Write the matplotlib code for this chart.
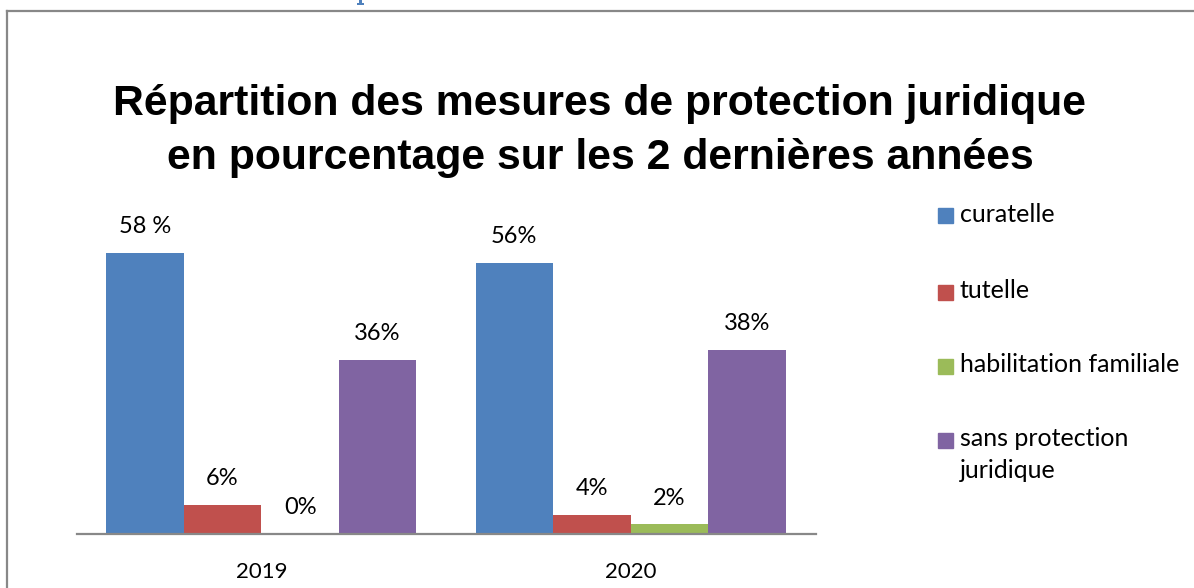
import numpy as np
import matplotlib.pyplot as plt
from matplotlib.lines import Line2D
from matplotlib.patches import Rectangle, Polygon

years = ['2019', '2020']
series = ['curatelle', 'tutelle', 'habilitation familiale', 'sans protection\njuridique']
values = [
    [58, 56],   # curatelle
    [6, 4],     # tutelle
    [0, 2],     # habilitation familiale
    [36, 38],   # sans protection juridique
]
value_labels = [
    ['58 %', '56%'],
    ['6%', '4%'],
    ['0%', '2%'],
    ['36%', '38%'],
]
colors = ['#4F81BD', '#C0504D', '#9BBB59', '#8064A2']

body_font = 'Lato'
W, H = 1194, 588
fig = plt.figure(figsize=(W / 100, H / 100), dpi=100)
ax = fig.add_axes([0.0641, 0.0918, 0.6189, 0.5767])

x = np.arange(len(years))
width = 0.21
for i, (vals, labs, col) in enumerate(zip(values, value_labels, colors)):
    pos = x + (i - 1.5) * width
    ax.bar(pos, vals, width, color=col, edgecolor='none')
    for px, v, lab in zip(pos, vals, labs):
        ax.text(px, v + 5.4, lab, ha='center', va='center', fontsize=17,
                family=body_font, color='black')

ax.set_xlim(-0.5, 1.5)
ax.set_ylim(0, 70)
ax.set_yticks([])
ax.set_xticks(x)
ax.set_xticklabels(years, fontsize=16, family=body_font)
ax.tick_params(axis='x', length=0, pad=20)
for s in ['top', 'right', 'left']:
    ax.spines[s].set_visible(False)
ax.spines['bottom'].set_color('#888888')
ax.spines['bottom'].set_linewidth(1.6)

fig.text(0.5025, 1 - 131 / H,
         'Répartition des mesures de protection juridique\nen pourcentage sur les 2 dernières années',
         ha='center', va='center', fontsize=30.8, fontweight='bold',
         family='Liberation Sans', linespacing=1.42)

# legend: square key beside the first line of each label
leg_y = [216, 292, 366, 440]
for name, col, yy in zip(series, colors, leg_y):
    fig.add_artist(Rectangle((938 / W, 1 - (yy + 7.5) / H), 15 / W, 15 / H,
                             transform=fig.transFigure, color=col))
    fig.text(960 / W, 1 - (yy - 13) / H, name, ha='left', va='top', fontsize=18,
             family=body_font, linespacing=1.45)

# page frame and the clipped heading stroke above it
fig.add_artist(Line2D([7 / W, 7 / W], [0, 1 - 11 / H], color='#888888', lw=1.6))
fig.add_artist(Line2D([7 / W, 1], [1 - 11 / H, 1 - 11 / H], color='#888888', lw=1.6))
stroke = [(359, 0), (362, 0), (362, 3), (364, 3), (364, 5), (357, 5), (357, 3), (359, 3)]
fig.add_artist(Polygon([(a / W, 1 - b / H) for a, b in stroke], closed=True,
                       transform=fig.transFigure, color='#4F81BD', lw=0))

fig.savefig('out.png', dpi=100)
